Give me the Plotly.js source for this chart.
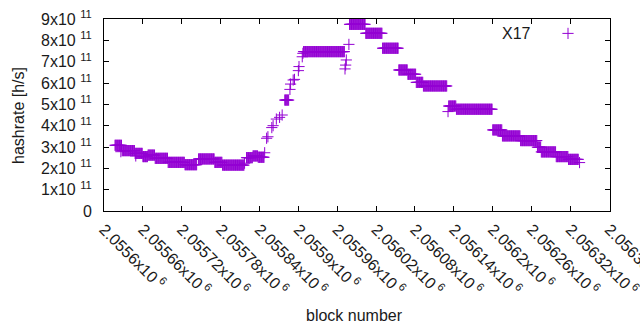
<!DOCTYPE html>
<html><head><meta charset="utf-8">
<script src="https://cdn.plot.ly/plotly-3.0.1.min.js"></script>
<style>html,body{margin:0;padding:0;background:#fff}#chart{width:640px;height:330px}</style>
</head><body><div id="chart"></div>
<script>
// Runs of blocks sharing the same hashrate (start block, end block, hashrate)
const runStart = [2055617,2055626,2055628,2055648,2055649,2055660,2055668,2055679,2055699,2055725,2055746,2055771,2055783,2055817,2055820,2055830,2055838,2055848,2055851,2055853,2055859,2055861,2055866,2055871,2055875,2055879,2055887,2055888,2055892,2055894,2055900,2055901,2055906,2055907,2055908,2055972,2055973,2055974,2055978,2055979,2056004,2056030,2056055,2056069,2056082,2056093,2056131,2056132,2056144,2056200,2056215,2056243,2056269,2056275,2056298,2056317,2056334];
const runEnd   = [2055627,2055626,2055647,2055659,2055649,2055667,2055678,2055698,2055724,2055743,2055770,2055782,2055816,2055817,2055829,2055837,2055847,2055848,2055851,2055853,2055859,2055861,2055866,2055871,2055875,2055885,2055887,2055888,2055892,2055894,2055900,2055901,2055906,2055907,2055971,2055972,2055973,2055974,2055978,2056003,2056029,2056054,2056068,2056081,2056092,2056129,2056131,2056143,2056199,2056214,2056242,2056268,2056274,2056297,2056316,2056332,2056334];
const runHash  = [3.08e11,2.78e11,2.83e11,2.70e11,2.58e11,2.55e11,2.62e11,2.47e11,2.28e11,2.17e11,2.44e11,2.28e11,2.15e11,2.24e11,2.50e11,2.58e11,2.52e11,2.73e11,3.41e11,3.48e11,3.91e11,4.00e11,4.31e11,4.39e11,4.50e11,5.20e11,5.70e11,5.95e11,6.14e11,6.17e11,6.58e11,6.77e11,7.23e11,7.39e11,7.47e11,6.66e11,6.84e11,7.08e11,7.81e11,8.75e11,8.33e11,7.63e11,6.61e11,6.41e11,6.03e11,5.86e11,4.66e11,4.92e11,4.77e11,3.80e11,3.52e11,3.30e11,2.99e11,2.77e11,2.55e11,2.42e11,2.27e11];

const xTickVals = [2055600,2055660,2055720,2055780,2055840,2055900,2055960,2056020,2056080,2056140,2056200,2056260,2056320,2056380];
const xTickText = ['2.0556','2.05566','2.05572','2.05578','2.05584','2.0559','2.05596','2.05602','2.05608','2.05614','2.0562','2.05626','2.05632','2.05638'];
const yTickVals = [0,1e11,2e11,3e11,4e11,5e11,6e11,7e11,8e11,9e11];
const yTickText = ['0','1','2','3','4','5','6','7','8','9'];

const blocks = [], hashes = [];
for (let i = 0; i < runStart.length; i++) {
  for (let b = runStart[i]; b <= runEnd[i]; b++) { blocks.push(b); hashes.push(runHash[i]); }
}

const violet = '#9400d3';
const font = {family: '"Liberation Sans", Arial, sans-serif', size: 16, color: '#1a1a1a'};

const traces = [
  {x: blocks, y: hashes, type: 'scatter', mode: 'markers', showlegend: false, hoverinfo: 'skip', cliponaxis: false,
   marker: {symbol: 'cross-thin', size: 8, line: {color: violet, width: 1}, color: violet}},
  {x: [0.917], y: [0.925], xaxis: 'x2', yaxis: 'y2', type: 'scatter', mode: 'markers', showlegend: false, hoverinfo: 'skip',
   marker: {symbol: 'cross-thin', size: 8, line: {color: violet, width: 1}, color: violet}}
];

const layout = {
  width: 640, height: 330,
  margin: {l: 104, r: 30, t: 19, b: 119},
  paper_bgcolor: '#fff', plot_bgcolor: '#fff',
  font: font,
  showlegend: false,
  xaxis: {range: [2055600, 2056381], tickvals: xTickVals,
    ticktext: xTickText.map(t => t + 'x10<sup> 6</sup>'),
    tickangle: 45, ticks: 'inside', ticklen: 5, tickcolor: '#000', mirror: 'ticks',
    showline: true, linecolor: '#000', linewidth: 1, showgrid: false, zeroline: false,
    ticklabeloverflow: 'allow', ticklabelstandoff: 2, tickfont: font},
  yaxis: {range: [0, 9e11], tickvals: yTickVals,
    ticktext: yTickText.map(t => t === '0' ? '0' : t + 'x10 <sup>11</sup>'),
    ticks: 'inside', ticklen: 5, tickcolor: '#000', mirror: 'ticks',
    showline: true, linecolor: '#000', linewidth: 1, showgrid: false, zeroline: false,
    ticklabelstandoff: 8, tickfont: font},
  xaxis2: {range: [0, 1], overlaying: 'x', visible: false, fixedrange: true},
  yaxis2: {range: [0, 1], overlaying: 'y', visible: false, fixedrange: true},
  annotations: [
    {text: 'X17', xref: 'paper', yref: 'paper', x: 0.847, y: 0.925, xanchor: 'right', yanchor: 'middle', showarrow: false, font: font},
    {text: 'block number', xref: 'paper', yref: 'paper', x: 0.495, y: -0.545, xanchor: 'center', yanchor: 'middle', showarrow: false, font: font},
    {text: 'hashrate [h/s]', xref: 'paper', yref: 'paper', x: -0.17, y: 0.5, xanchor: 'center', yanchor: 'middle', textangle: -90, showarrow: false, font: font}
  ]
};

Plotly.newPlot('chart', traces, layout, {staticPlot: true, displayModeBar: false});
</script></body></html>
